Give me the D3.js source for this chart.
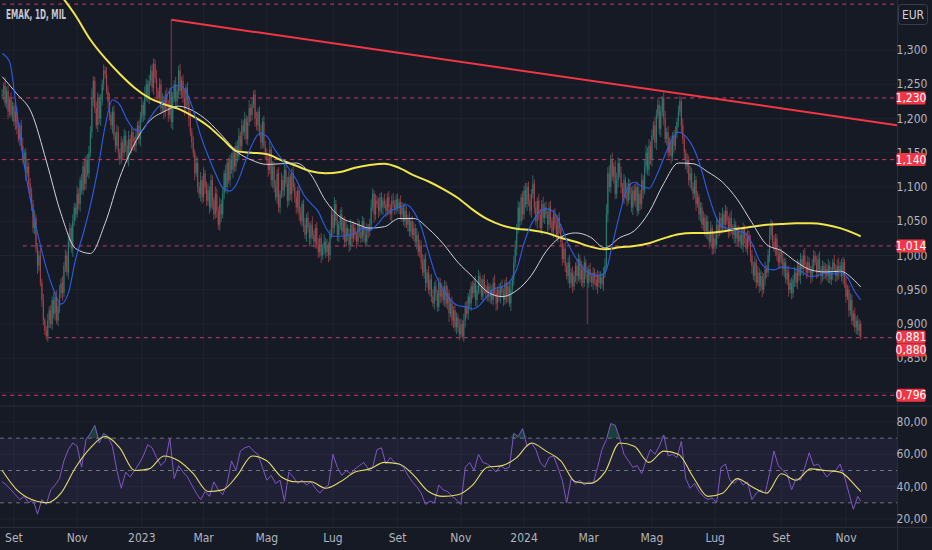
<!DOCTYPE html>
<html>
<head>
<meta charset="utf-8">
<style>
  body { margin: 0; background: #161a25; }
  svg { display: block; font-family: "Liberation Sans Narrow", "DejaVu Sans Condensed", Roboto, sans-serif; }
</style>
</head>
<body>
<svg id="chart"></svg>
<script src="https://cdn.jsdelivr.net/npm/d3@7/dist/d3.min.js"></script>
<script>

  // ---- data (prices in thousandths of EUR, one value per trading day) ----
  const firstDay = "2022-08-22"
  const title = "EMAK, 1D, MIL"
  const currency = "EUR"

  const closes = [
    1235,1248,1222,1240,1210,1228,1205,1218,1195,1210, 1185,1170,1190,1160,1140,1150,1120,1130,1105,1090,
    1075,1040,1055,1010,985,1000,960,935,905,890, 882,905,920,900,935,915,940,905,925,945,
    960,945,985,1000,975,1020,1040,1010,1050,1070, 1060,1090,1075,1110,1095,1130,1105,1140,1120,1150,
    1180,1230,1255,1215,1190,1230,1200,1225,1250,1270, 1265,1240,1225,1205,1190,1210,1175,1160,1180,1150,
    1140,1165,1150,1175,1160,1140,1170,1155,1180,1165, 1160,1175,1190,1170,1200,1220,1205,1235,1250,1230,
    1255,1270,1245,1280,1260,1240,1230,1250,1215,1225, 1210,1235,1220,1205,1240,1195,1230,1250,1225,1240,
    1270,1240,1255,1230,1215,1245,1225,1200,1180,1165, 1150,1120,1135,1100,1090,1110,1085,1120,1100,1080,
    1095,1070,1110,1080,1060,1090,1065,1045,1075,1060, 1090,1120,1100,1135,1110,1140,1125,1150,1130,1160,
    1145,1175,1160,1190,1180,1200,1170,1195,1215,1205, 1220,1235,1200,1190,1210,1180,1165,1195,1160,1150,
    1140,1125,1155,1110,1130,1100,1085,1120,1070,1090, 1110,1095,1125,1105,1080,1115,1090,1120,1100,1085,
    1070,1095,1060,1050,1075,1045,1030,1055,1040,1025, 1045,1030,1020,1040,1015,1005,1025,1000,1010,1020,
    1005,1015,1000,1030,1060,1040,1075,1050,1030,1045, 1060,1035,1050,1020,1040,1030,1015,1045,1025,1040,
    1030,1020,1045,1035,1025,1050,1030,1020,1040,1035, 1045,1070,1090,1060,1080,1075,1065,1085,1070,1080,
    1075,1065,1085,1070,1060,1080,1075,1068,1082,1070, 1078,1060,1070,1050,1065,1045,1055,1035,1050,1030,
    1040,1020,1030,1005,1015,990,975,995,960,975, 950,965,940,930,955,945,925,960,940,950,
    935,955,930,945,915,930,905,920,895,910, 895,885,900,882,905,925,915,940,930,955,
    945,960,935,950,970,955,940,965,950,945, 955,940,950,935,960,945,930,950,940,955,
    945,935,960,940,955,930,950,965,990,1010, 1040,1070,1050,1085,1060,1095,1075,1100,1080,1065,
    1090,1105,1070,1050,1080,1060,1040,1075,1055,1070, 1060,1045,1070,1050,1035,1060,1045,1030,1055,1040,
    1020,995,1010,985,970,990,960,975,955,970, 985,970,995,965,980,960,990,975,960,980,
    970,960,975,965,955,972,960,968,958,975, 985,1060,1120,1100,1140,1115,1130,1090,1110,1135,
    1120,1100,1085,1110,1095,1080,1105,1090,1070,1095, 1080,1100,1065,1090,1075,1110,1095,1130,1150,1125,
    1160,1140,1175,1190,1165,1205,1220,1185,1210,1230, 1200,1170,1180,1150,1165,1145,1175,1160,1180,1195,
    1210,1225,1190,1170,1150,1130,1140,1110,1120,1100, 1090,1110,1075,1085,1060,1070,1045,1055,1035,1050,
    1030,1020,1040,1010,1025,1015,1045,1035,1055,1040, 1060,1045,1065,1050,1035,1055,1040,1030,1045,1025,
    1035,1020,1030,1015,1040,1025,1010,1030,1020,1000, 985,970,990,960,975,955,970,950,965,980,
    975,1000,1030,1045,1020,1010,1025,1000,990,1005, 995,980,990,965,975,950,960,945,965,975,
    960,985,970,995,980,1000,985,975,990,980, 970,985,1000,990,975,995,980,970,985,975,
    980,970,985,965,975,990,980,970,985,975, 985,970,990,960,940,950,920,935,905,915,
    895,905,890,900,881
  ]

  // wick length above / below the body, thousandths
  const wickUp = [
    8,5,12,6,9,4,10,7,5,11,6,9,4,8,12,5,7,10,6,8,
    9,6,11,5,8,7,13,6,9,4,7,10,6,8,5,11,7,9,6,12,
    7,10,5,9,6,12,8,5,10,7,6,11,8,5,9,7,12,6,8,10,
    9,14,7,6,10,8,5,11,7,9,6,10,8,12,5,7,9,6,11,8,
    6,9,5,10,7,8,12,6,9,5,8,11,6,7,10,9,5,12,8,6,
    9,7,10,8,6,11,5,9,7,12,8,6,10,7,5,104,9,6,11,8,
    7,10,6,9,12,5,8,7,11,6,9,5,10,8,7,12,6,9,5,8,
    10,6,9,7,5,11,8,6,10,7,9,5,12,6,8,7,10,5,9,6,
    8,11,6,9,7,10,5,8,12,6,9,6,7,10,5,8,11,6,9,7,
    6,9,12,5,8,7,10,6,9,5,11,7,8,6,10,9,5,7,12,6,
    9,6,8,11,5,7,10,6,9,8,5,12,7,6,9,10,5,8,7,11,
    6,9,5,8,12,7,10,6,9,5,8,11,6,7,10,5,9,8,6,10,
    7,5,9,6,10,8,5,11,7,6,9,12,8,5,10,7,9,6,8,5,
    10,7,6,9,5,8,11,6,7,9,5,10,8,6,12,7,5,9,6,8,
    9,6,10,5,8,7,12,6,9,5,10,7,8,11,6,9,5,8,7,10,
    6,9,7,11,5,8,10,6,9,7,5,12,8,6,10,7,9,5,11,6,
    8,6,10,7,9,5,11,6,8,7,10,5,9,6,8,12,7,5,9,6,
    10,7,5,9,6,8,11,7,9,12,6,10,8,5,9,7,11,6,8,10,
    7,12,6,9,5,10,8,6,11,7,9,5,8,10,6,7,9,12,5,8,
    6,9,7,10,5,8,11,6,9,7,5,10,8,6,12,7,9,5,8,6,
    9,5,8,6,10,7,5,9,6,8,11,15,9,12,7,10,6,9,11,8,
    7,10,6,9,5,11,8,6,10,7,9,5,8,12,6,10,7,9,11,8,
    10,7,9,6,12,8,10,7,9,3,8,11,6,9,7,10,5,8,9,6,
    9,8,6,10,7,5,9,6,11,8,7,10,6,9,5,8,7,10,6,9,
    8,6,10,5,9,7,11,6,8,7,10,5,9,6,8,7,11,6,9,5,
    7,9,6,10,8,5,9,7,6,10,8,6,9,5,10,7,8,6,9,11,
    6,9,12,8,5,10,7,6,9,8,5,11,7,6,9,10,5,8,7,9,
    6,10,7,9,5,8,11,6,9,7,5,10,8,6,9,7,11,5,8,6,
    9,7,10,6,8,5,11,7,9,12,6,10,8,5,9,7,6,10,8,5,
    9,6,8,7,5
  ]
  const wickDn = [
    6,10,5,8,11,7,4,9,6,12,8,5,10,7,6,9,11,5,8,7,
    10,7,9,6,12,8,5,10,7,6,5,8,11,6,9,7,10,5,8,9,
    7,11,6,9,5,10,8,6,12,7,9,5,8,11,6,7,10,9,5,8,
    6,9,12,7,5,10,8,11,6,9,7,5,10,8,6,12,7,9,5,10,
    8,6,11,7,9,5,10,8,6,12,7,9,5,8,11,6,10,7,9,6,
    9,7,6,10,8,12,7,5,9,6,11,8,7,10,5,9,12,6,8,7,
    10,6,9,7,11,5,8,12,6,9,7,10,5,8,6,11,9,7,10,8,
    7,9,5,12,8,6,10,7,9,11,6,8,7,10,5,9,6,12,8,7,
    9,6,10,8,5,11,7,9,6,10,8,5,12,7,9,6,10,8,5,11,
    7,10,6,9,12,8,5,10,7,9,6,11,8,5,10,7,9,12,6,8,
    10,7,9,5,8,11,6,10,7,12,9,6,8,10,5,9,7,11,6,8,
    9,6,10,7,5,11,8,6,9,10,7,5,12,8,6,9,10,7,11,6,
    8,10,6,9,7,5,11,8,6,10,7,9,5,12,8,6,10,7,9,11,
    6,9,7,10,8,12,5,9,7,6,10,8,11,6,9,5,10,7,8,6,
    9,7,11,6,8,10,5,9,12,7,6,10,8,5,9,11,7,6,10,8,
    7,10,6,9,12,5,8,11,6,10,7,9,5,4,8,10,6,9,7,11,
    8,6,9,11,7,10,5,8,6,9,12,7,10,6,8,5,11,9,7,10,
    6,9,7,10,8,5,11,6,9,7,10,8,12,6,9,7,5,10,8,6,
    10,7,9,6,11,8,5,10,7,9,6,12,8,10,5,9,7,6,11,8,
    7,10,6,9,5,11,8,7,10,6,9,12,7,5,10,8,6,9,60,7,
    9,6,10,8,5,11,7,9,6,10,8,5,12,7,9,6,10,8,7,11,
    6,9,7,10,12,8,5,9,7,11,6,10,8,5,9,7,12,6,10,8,
    9,7,10,6,8,11,5,9,12,7,10,6,9,8,5,11,7,10,6,9,
    8,6,11,7,9,5,10,8,12,6,9,7,10,5,8,11,6,9,7,10,
    7,10,6,9,8,12,5,10,7,9,6,11,8,5,10,7,9,6,12,8,
    10,7,9,6,11,8,5,9,7,10,12,6,9,8,5,10,7,11,6,9,
    8,6,10,7,9,5,11,8,6,10,7,9,12,6,8,10,5,9,7,11,
    6,9,7,12,8,10,5,9,7,6,11,8,10,5,9,7,6,12,8,10,
    9,7,10,6,8,11,5,9,7,10,6,8,12,7,9,5,10,8,6,9,
    7,10,6,8,4
  ]

  // moving averages, one value every N bars
  const blueStep = 5
  const blueMa = [
    1295,1283,1209,1132,1073,1024,982,950,929,945,
    995,1031,1073,1125,1188,1227,1220,1198,1184,1182,
    1199,1214,1225,1244,1249,1240,1212,1175,1146,1120,
    1099,1094,1107,1135,1162,1178,1174,1156,1141,1127,
    1111,1089,1076,1064,1041,1028,1028,1030,1032,1040,
    1037,1045,1058,1066,1070,1074,1064,1042,1005,971,
    950,935,927,925,922,928,941,952,954,961,
    980,1018,1046,1062,1068,1064,1044,1017,997,982,
    974,970,974,1015,1060,1097,1107,1101,1098,1116,
    1142,1167,1180,1174,1158,1130,1092,1059,1042,1039,
    1036,1033,1018,993,981,979,983,982,980,975,
    969,971,974,973,976,968,947,935
  ]
  const whiteStep = 10
  const whiteMa = [
    1261,1236,1208,1138,1061,1010,1003,1047,1114,1163,
    1196,1210,1218,1211,1196,1174,1151,1139,1133,1134,
    1135,1118,1080,1056,1047,1040,1042,1054,1054,1039,
    1017,990,969,947,940,949,971,1006,1027,1033,
    1027,1011,1026,1036,1063,1105,1135,1134,1122,1107,
    1082,1048,1016,1007,991,979,976,977,963,954
  ]
  const yellowStep = 10
  const yellowMa = [
    1560,1500,1450,1410,1380,1350,1315,1288,1265,1245,
    1230,1221,1214,1203,1189,1170,1152,1150,1148,1139,
    1131,1123,1120,1122,1128,1132,1134,1128,1117,1108,
    1097,1084,1067,1053,1044,1039,1037,1033,1026,1020,
    1013,1009,1012,1014,1018,1025,1031,1033,1033,1035,
    1039,1042,1045,1046,1047,1047,1045,1040,1032,1028
  ]

  // RSI and its moving average
  const rsiStep = 3
  const rsi = [
    43,41,38,35,32,34,30,32,23,32, 29,38,41,45,56,63,67,65,52,69,
    73,78,67,73,71,65,50,39,49,46, 50,54,59,66,64,58,53,56,70,45,
    53,49,46,41,36,32,37,34,43,38, 35,42,56,50,62,64,65,62,60,52,
    44,47,42,44,31,49,46,42,44,41, 43,39,36,39,41,60,52,47,50,48,
    51,53,55,51,52,63,64,54,58,55, 54,52,47,43,40,36,29,31,30,41,
    38,37,34,32,29,52,55,50,60,55, 54,52,49,53,51,52,73,71,76,65,
    67,63,55,52,58,59,52,44,30,45, 42,44,41,43,42,52,63,69,79,78,
    70,60,56,52,53,48,56,63,60,65, 72,59,60,58,68,45,39,42,37,34,
    32,33,30,52,54,44,42,45,41,43, 32,36,38,36,48,62,53,50,48,38,
    45,44,52,61,53,54,50,46,49,50, 54,46,36,26,34,31
  ]
  const rsiMaStep = 10
  const rsiMa = [
    50,38,32,30,36,52,64,71,64,50, 51,59,56,48,37,38,47,59,56,46,
    43,43,39,43,49,51,55,54,47,37, 34,35,41,52,53,58,67,62,56,43,
    42,49,67,65,55,62,60,46,34,36, 45,40,36,48,44,51,50,49,41,37
  ]

  // horizontal levels drawn on the chart (price, first bar, tagged on axis)
  const levelPrices = [1.367, 1.230, 1.140, 1.014, 0.880, 0.796]
  const levelFrom   = [0, 0, 0, 14, 31, 0]
  const levelTagged = [false, true, true, true, true, true]

  // trendline anchors (bar index, price)
  const trendBars   = [115, 584]
  const trendPrices = [1.344, 1.198]

  // axes
  const priceTicks = [0.80, 0.85, 0.90, 0.95, 1.00, 1.05, 1.10, 1.15, 1.20, 1.25, 1.30]
  const rsiTicks = [20, 40, 60, 80]
  const rsiBands = [70, 50, 30]
  const monthKeys   = ["2022-09","2022-11","2023-01","2023-03","2023-05","2023-07","2023-09",
                       "2023-11","2024-01","2024-03","2024-05","2024-07","2024-09","2024-11"]
  const monthLabels = ["Set","Nov","2023","Mar","Mag","Lug","Set","Nov","2024","Mar","Mag","Lug","Set","Nov"]

  // ---- layout ----
  const W = 932, H = 550
  const axisX = 897
  const paneBottom = 405, rsiTop = 407, rsiBottom = 527
  const colors = {bg: '#161a25', grid: '#1f2330', sep: '#2a2e39', text: '#b2b5be',
                  up: '#2b7c72', down: '#a4434b', level: '#c83d69', tag: '#f23645',
                  yellow: '#f2e64a', blue: '#2a5fe8', white: '#d0d2d8',
                  rsi: '#7e57c2', rsiMa: '#e3dc68'}

  // trading days (weekdays only)
  const dates = []
  const day = new Date(firstDay + "T00:00:00Z")
  while (dates.length < closes.length) {
    const wd = day.getUTCDay()
    if (wd !== 0 && wd !== 6) dates.push(new Date(day))
    day.setUTCDate(day.getUTCDate() + 1)
  }
  const n = closes.length

  const bars = closes.map((c, i) => {
    const close = c / 1000
    const open = i ? closes[i - 1] / 1000 : close
    return {i, open, close,
            high: Math.max(open, close) + wickUp[i] / 1000,
            low: Math.min(open, close) - wickDn[i] / 1000}
  })

  const x = d3.scaleLinear().domain([0, n - 1]).range([2.2, 860.7])
  const y = d3.scaleLinear().domain([0.8, 1.3]).range([392.5, 50])
  const yR = d3.scaleLinear().domain([20, 80]).range([519, 422])

  const sampled = (arr, step, scale) => arr.map((v, k) => [x(Math.min(k * step, n - 1)), scale(v)])
  const fmtP = v => v.toFixed(3).replace('.', ',')
  const fmtR = v => v.toFixed(2).replace('.', ',')

  const svg = d3.select("#chart").attr("width", W).attr("height", H)
  svg.append("rect").attr("width", W).attr("height", H).attr("fill", colors.bg)

  const defs = svg.append("defs")
  defs.append("clipPath").attr("id", "clipP").append("rect")
    .attr("x", 0).attr("y", 0).attr("width", axisX).attr("height", paneBottom)
  defs.append("clipPath").attr("id", "clipR").append("rect")
    .attr("x", 0).attr("y", rsiTop).attr("width", axisX).attr("height", rsiBottom - rsiTop)

  // grid
  const monthIdx = monthKeys.map(m => dates.findIndex(d => d.toISOString().slice(0, 7) === m))
  svg.append("g").selectAll("line").data(monthIdx).join("line")
    .attr("x1", d => x(d)).attr("x2", d => x(d))
    .attr("y1", 0).attr("y2", rsiBottom)
    .attr("stroke", colors.grid)
  svg.append("g").selectAll("line").data(priceTicks).join("line")
    .attr("x1", 0).attr("x2", axisX).attr("y1", d => y(d)).attr("y2", d => y(d))
    .attr("stroke", colors.grid)
  svg.append("g").selectAll("line").data(rsiTicks).join("line")
    .attr("x1", 0).attr("x2", axisX).attr("y1", d => yR(d)).attr("y2", d => yR(d))
    .attr("stroke", colors.grid)

  // price pane
  const pane = svg.append("g").attr("clip-path", "url(#clipP)")

  pane.append("g").selectAll("line").data(levelPrices).join("line")
    .attr("x1", (d, i) => x(levelFrom[i])).attr("x2", axisX)
    .attr("y1", d => y(d)).attr("y2", d => y(d))
    .attr("stroke", colors.level).attr("stroke-dasharray", "4,4")

  const candles = pane.append("g").selectAll("g").data(bars).join("g")
  candles.append("line")
    .attr("x1", d => x(d.i)).attr("x2", d => x(d.i))
    .attr("y1", d => y(d.high)).attr("y2", d => y(d.low))
    .attr("stroke", d => d.close >= d.open ? colors.up : colors.down)
    .attr("stroke-width", 0.8)
  candles.append("rect")
    .attr("x", d => x(d.i) - 0.55).attr("width", 1.1)
    .attr("y", d => y(Math.max(d.open, d.close)))
    .attr("height", d => Math.max(1, Math.abs(y(d.open) - y(d.close))))
    .attr("fill", d => d.close >= d.open ? colors.up : colors.down)

  const smooth = d3.line().curve(d3.curveMonotoneX)
  const toP = v => y(v / 1000)
  pane.append("path").attr("d", smooth(sampled(yellowMa, yellowStep, toP)))
    .attr("fill", "none").attr("stroke", colors.yellow).attr("stroke-width", 2)
  pane.append("path").attr("d", smooth(sampled(whiteMa, whiteStep, toP)))
    .attr("fill", "none").attr("stroke", colors.white).attr("stroke-width", 1)
  pane.append("path").attr("d", smooth(sampled(blueMa, blueStep, toP)))
    .attr("fill", "none").attr("stroke", colors.blue).attr("stroke-width", 1.1)

  // trendline, extended to the price axis
  const slope = (trendPrices[1] - trendPrices[0]) / (trendBars[1] - trendBars[0])
  const endBar = x.invert(axisX)
  pane.append("line")
    .attr("x1", x(trendBars[0])).attr("y1", y(trendPrices[0]))
    .attr("x2", x(endBar)).attr("y2", y(trendPrices[0] + slope * (endBar - trendBars[0])))
    .attr("stroke", colors.tag).attr("stroke-width", 2)

  // RSI pane
  const rpane = svg.append("g").attr("clip-path", "url(#clipR)")
  rpane.append("rect").attr("x", 0).attr("width", axisX)
    .attr("y", yR(70)).attr("height", yR(30) - yR(70))
    .attr("fill", "rgba(126,87,194,0.1)")
  rpane.append("g").selectAll("line").data(rsiBands).join("line")
    .attr("x1", 0).attr("x2", axisX).attr("y1", d => yR(d)).attr("y2", d => yR(d))
    .attr("stroke", "#787b86").attr("stroke-dasharray", "4,4").attr("stroke-width", 0.9)
  const rsiPts = sampled(rsi, rsiStep, v => v)
  rpane.append("path")
    .attr("d", d3.area().x(d => d[0]).y0(yR(70)).y1(d => yR(Math.max(70, d[1])))(rsiPts))
    .attr("fill", "rgba(38,166,120,0.28)")
  rpane.append("path").attr("d", d3.line()(rsiPts.map(d => [d[0], yR(d[1])])))
    .attr("fill", "none").attr("stroke", colors.rsi).attr("stroke-width", 1)
  rpane.append("path").attr("d", smooth(sampled(rsiMa, rsiMaStep, yR)))
    .attr("fill", "none").attr("stroke", colors.rsiMa).attr("stroke-width", 1.1)

  // separators
  svg.append("line").attr("x1", 0).attr("x2", W).attr("y1", 406).attr("y2", 406).attr("stroke", colors.sep)
  svg.append("line").attr("x1", 0).attr("x2", W).attr("y1", rsiBottom + 0.5).attr("y2", rsiBottom + 0.5).attr("stroke", colors.sep)
  svg.append("line").attr("x1", axisX + 0.5).attr("x2", axisX + 0.5).attr("y1", 0).attr("y2", H).attr("stroke", colors.sep)

  // tags on the price axis: last close first, then levels, pushed apart when they collide
  const tagH = 13
  const tags = [{v: closes[n - 1] / 1000}]
  levelPrices.forEach((v, i) => { if (levelTagged[i]) tags.push({v}) })
  const placed = []
  tags.forEach(t => {
    let cy = y(t.v)
    placed.forEach(p => { if (Math.abs(p - cy) < tagH) cy = p + tagH })
    placed.push(cy)
    t.cy = cy
  })

  // axis labels (a label sitting right under a tag is hidden by it)
  const shownTicks = priceTicks.filter(v => !tags.some(t => Math.abs(t.cy - y(v)) < 4))
  svg.append("g").selectAll("text").data(shownTicks).join("text")
    .attr("x", 912).attr("y", d => y(d) + 4)
    .attr("text-anchor", "middle").attr("fill", colors.text).style("font-size", "12px")
    .text(fmtP)
  svg.append("g").selectAll("text").data(rsiTicks).join("text")
    .attr("x", 912).attr("y", d => yR(d) + 4)
    .attr("text-anchor", "middle").attr("fill", colors.text).style("font-size", "12px")
    .text(fmtR)
  svg.append("g").selectAll("text").data(monthIdx).join("text")
    .attr("x", d => x(d)).attr("y", 541.5)
    .attr("text-anchor", "middle").attr("fill", colors.text).style("font-size", "12px")
    .text((d, i) => monthLabels[i])

  const tg = svg.append("g").selectAll("g").data(tags).join("g")
  tg.append("rect").attr("x", axisX - 0.5).attr("width", 29)
    .attr("y", d => d.cy - tagH / 2).attr("height", tagH).attr("rx", 1.5)
    .attr("fill", colors.tag)
  tg.append("text").attr("x", axisX + 14).attr("y", d => d.cy + 4)
    .attr("text-anchor", "middle").attr("fill", "#ffffff").style("font-size", "12px")
    .text(d => fmtP(d.v))

  // currency box and title
  svg.append("rect").attr("x", 898.5).attr("y", 4.5).attr("width", 29).attr("height", 20).attr("rx", 3)
    .attr("fill", colors.bg).attr("stroke", "#3a3e4a")
  svg.append("text").attr("x", 913).attr("y", 18.5).attr("text-anchor", "middle")
    .attr("fill", "#d1d4dc").style("font-size", "12px").text(currency)
  svg.append("text").attr("x", 6).attr("y", 18.5).attr("fill", "#c3c6ce")
    .attr("textLength", 60).attr("lengthAdjust", "spacingAndGlyphs")
    .style("font-size", "13.5px").style("font-weight", "600").text(title)

</script>
</body>
</html>
